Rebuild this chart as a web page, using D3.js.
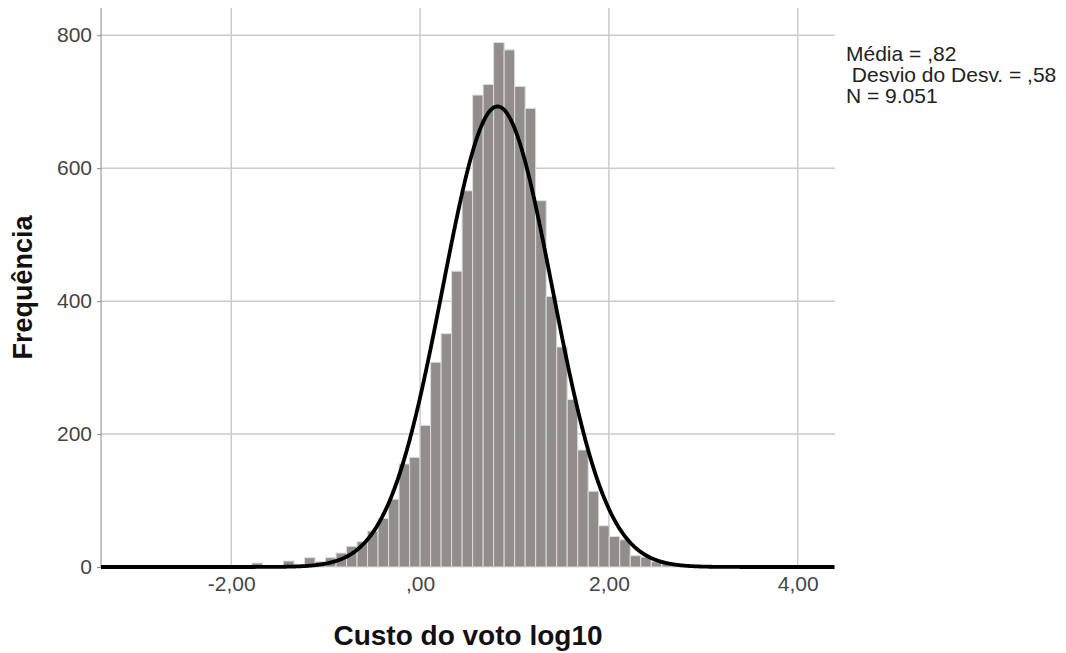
<!DOCTYPE html>
<html>
<head>
<meta charset="utf-8">
<script src="https://cdn.jsdelivr.net/npm/d3@7"></script>
<style>
  html, body { margin: 0; padding: 0; background: #ffffff; }
  svg { display: block; }
  text { font-family: "Liberation Sans", Arial, sans-serif; }
</style>
</head>
<body>
<svg id="chart" width="1066" height="653"></svg>
<script>
// Histogram of the log10 cost per vote, with fitted normal curve
const binWidth = 0.1113;
const firstBinIndex = -17;           // first bin starts at firstBinIndex * binWidth
const binCounts = [
  1, 6, 1, 2, 9, 3, 14, 8, 14, 21, 31, 38, 54, 73, 102, 155, 165,
  213, 308, 351, 445, 566, 710, 726, 789, 778, 723, 690, 551, 407, 331,
  252, 176, 114, 62, 46, 41, 17, 15, 8, 5, 3, 2, 1, 1
];
const xTicks = [-2, 0, 2, 4];
const xTickLabels = ["-2,00", ",00", "2,00", "4,00"];
const yTicks = [0, 200, 400, 600, 800];
const yTickLabels = ["0", "200", "400", "600", "800"];
const stats = { mean: 0.82, sd: 0.58, n: 9051 };
const legendLines = ["Média = ,82", " Desvio do Desv. = ,58", "N = 9.051"];
const xTitle = "Custo do voto log10";
const yTitle = "Frequência";

const svg = d3.select("#chart");
const plotLeft = 101, plotRight = 835, plotTop = 8, plotBottom = 567;

const x = d3.scaleLinear().domain([-3.38, 4.395]).range([plotLeft, plotRight]);
const y = d3.scaleLinear().domain([0, 841]).range([plotBottom, plotTop]);

const bins = binCounts.map((c, i) => {
  const x0 = (firstBinIndex + i) * binWidth;
  return { x0, x1: x0 + binWidth, count: c };
});

// grid
const grid = svg.append("g");
grid.selectAll("line.h").data(yTicks.filter(d => d > 0)).join("line")
  .attr("x1", plotLeft).attr("x2", plotRight)
  .attr("y1", d => y(d)).attr("y2", d => y(d))
  .attr("stroke", "#cbcbcb").attr("stroke-width", 1.5);
grid.selectAll("line.v").data(xTicks).join("line")
  .attr("x1", d => x(d)).attr("x2", d => x(d))
  .attr("y1", plotTop).attr("y2", plotBottom)
  .attr("stroke", "#cbcbcb").attr("stroke-width", 1.5);

// bars
svg.append("g").selectAll("rect").data(bins).join("rect")
  .attr("x", d => x(d.x0))
  .attr("width", d => x(d.x1) - x(d.x0))
  .attr("y", d => y(d.count))
  .attr("height", d => y(0) - y(d.count))
  .attr("fill", "#918d8d")
  .attr("stroke", "#dedbdb")
  .attr("stroke-width", 1);

// y axis
const yAxis = svg.append("g")
  .attr("transform", `translate(${plotLeft},0)`)
  .call(d3.axisLeft(y).tickValues(yTicks).tickFormat((d, i) => yTickLabels[i])
    .tickSize(4).tickPadding(5).tickSizeOuter(0));
yAxis.select(".domain").attr("stroke", "#8a8a8a").attr("d", `M0,${plotTop}V${plotBottom}`);
yAxis.selectAll(".tick line").attr("stroke", "#8a8a8a");
yAxis.selectAll(".tick text").attr("font-size", 21).attr("fill", "#444")
  .attr("font-family", "'Liberation Sans', Arial, sans-serif");

// x axis labels
const xAxis = svg.append("g")
  .attr("transform", `translate(0,${plotBottom})`)
  .call(d3.axisBottom(x).tickValues(xTicks).tickFormat((d, i) => xTickLabels[i])
    .tickSize(0).tickPadding(9).tickSizeOuter(0));
xAxis.select(".domain").remove();
xAxis.selectAll(".tick text").attr("font-size", 21).attr("fill", "#444")
  .attr("font-family", "'Liberation Sans', Arial, sans-serif");

// normal curve
const norm = v => stats.n * binWidth / (stats.sd * Math.sqrt(2 * Math.PI)) *
  Math.exp(-0.5 * Math.pow((v - stats.mean) / stats.sd, 2));
const curveX = d3.range(x.domain()[0], x.domain()[1] + 0.001, 0.01);
svg.append("path")
  .datum(curveX)
  .attr("d", d3.line().x(v => x(v)).y(v => y(norm(v))))
  .attr("fill", "none")
  .attr("stroke", "#000")
  .attr("stroke-width", 3.8)
  .attr("stroke-linejoin", "round");

// titles
svg.append("text")
  .attr("x", (plotLeft + plotRight) / 2).attr("y", 645)
  .attr("text-anchor", "middle")
  .attr("font-size", 28).attr("font-weight", "bold").attr("fill", "#111")
  .text(xTitle);
svg.append("text")
  .attr("transform", `translate(32,${(plotTop + plotBottom) / 2}) rotate(-90)`)
  .attr("text-anchor", "middle")
  .attr("font-size", 27).attr("font-weight", "bold").attr("fill", "#111")
  .text(yTitle);

// statistics legend
svg.append("g").selectAll("text").data(legendLines).join("text")
  .attr("x", 846)
  .attr("y", (d, i) => 61 + i * 21)
  .attr("font-size", 21).attr("fill", "#222")
  .style("white-space", "pre")
  .text(d => d);
</script>
</body>
</html>
